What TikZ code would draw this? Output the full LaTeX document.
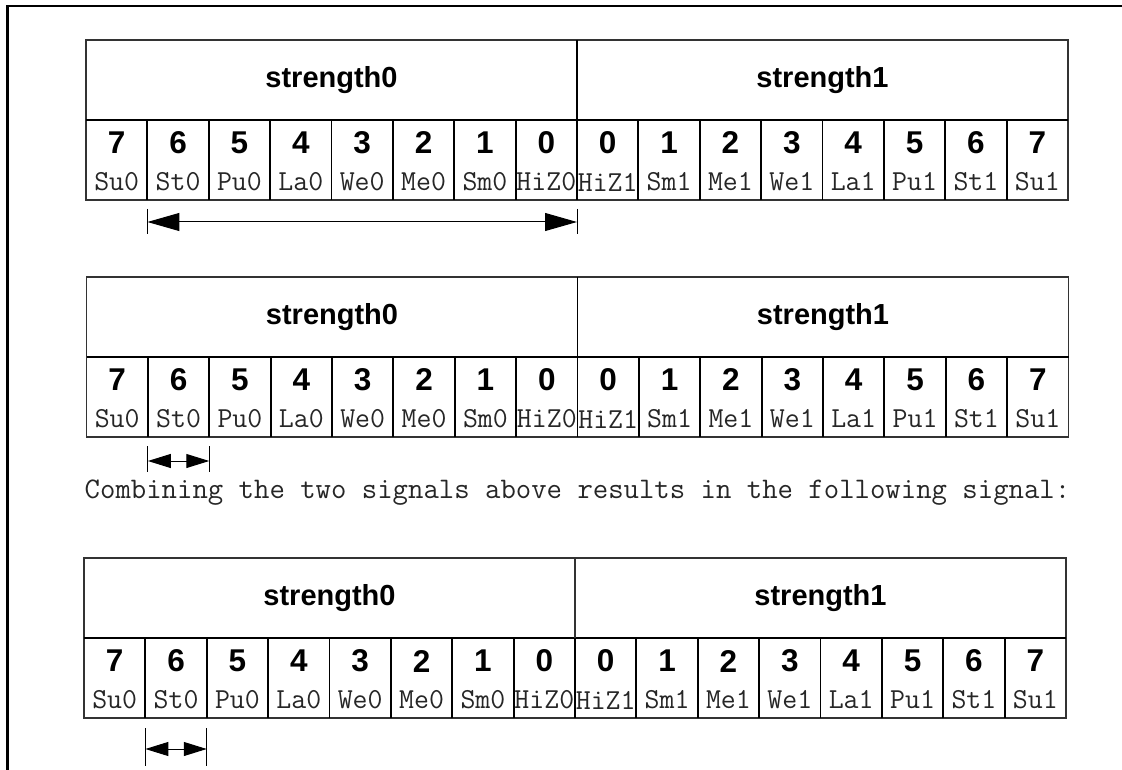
\documentclass[tikz,border=0pt]{standalone}
\usepackage{fontspec}
\setmainfont{Liberation Sans}
\usetikzlibrary{arrows.meta,calc}
\tikzset{
  border/.style={line width=2.5pt},
  headbox/.style={minimum width=491pt, minimum height=80pt, inner sep=0pt, outer sep=0pt, font=\fontsize{29}{29}\selectfont\bfseries},
  cellbox/.style={minimum width=61.375pt, minimum height=80pt, inner sep=0pt, outer sep=0pt},
  num/.style={inner sep=0pt, font=\fontsize{31.5}{31.5}\selectfont\bfseries},
  lab/.style={inner sep=0pt, text=black!85, font=\ttfamily\fontsize{29}{29}\selectfont},
  thinline/.style={line width=1.1pt, black!80},
  thickline/.style={line width=1.9pt},
  tickline/.style={line width=1pt},
  bigarrow/.style={line width=1pt, {Triangle[length=32pt,width=18pt]}-{Triangle[length=32pt,width=18pt]}},
  smallarrow/.style={line width=1pt, {Triangle[length=23pt,width=14pt]}-{Triangle[length=23pt,width=14pt]}},
  combtext/.style={inner sep=0pt, text=black!85, font=\ttfamily\fontsize{29.9}{29.9}\selectfont},
}
\newcommand\sigtab[4]{%
  \begin{scope}[shift={(#2,#3)}]
    \node[headbox] (#1h0) at (245.5,40) {strength0};
    \node[headbox] (#1h1) at (736.5,40) {strength1};
    \foreach \dg/\lb [count=\i from 0] in {7/Su0,6/St0,5/Pu0,4/La0,3/We0,2/Me0,1/Sm0,0/HiZ0,0/HiZ1,1/Sm1,2/Me1,3/We1,4/La1,5/Pu1,6/St1,7/Su1}{
      \node[cellbox] (#1c\i) at ({(\i+0.5)*61.375},120) {};
      \node[num] (#1n\i) at ([yshift=-23pt]#1c\i.north) {\dg};
      \node[lab] (#1l\i) at ([yshift=-62pt]#1c\i.north) {\lb};
    }
    \draw[thinline] (#1h0.north west) rectangle (#1c15.south east);
    \draw[thickline] (#1h0.south west) -- (#1h1.south east);
    \draw[#4] (#1h0.north east) -- (#1h0.south east);
    \foreach \i in {1,...,15} \draw[thickline] (#1c\i.north west) -- (#1c\i.south west);
  \end{scope}}
\begin{document}
\begin{tikzpicture}[x=1pt,y=-1pt]
\useasboundingbox (0,0) rectangle (1122,770);
\draw[border] (1122,6) -- (7.5,6) -- (7.5,770);

\sigtab{a}{86}{40}{thickline}
\sigtab{b}{86.5}{277}{thickline}
\sigtab{c}{84}{558}{thinline}

% arrow 1
\coordinate (a1s) at ($(ac1.south west)+(0,22)$);
\coordinate (a1e) at ($(ac8.south west)+(0,22)$);
\draw[tickline] ($(ac1.south west)+(0,9)$) -- ($(ac1.south west)+(0,34)$);
\draw[tickline] ($(ac8.south west)+(0,9)$) -- ($(ac8.south west)+(0,34)$);
\draw[bigarrow] (a1s) -- (a1e);

% arrow 2
\coordinate (b1s) at ($(bc1.south west)+(0,24)$);
\coordinate (b1e) at ($(bc2.south west)+(0,24)$);
\draw[tickline] ($(bc1.south west)+(0,9)$) -- ($(bc1.south west)+(0,35)$);
\draw[tickline] ($(bc2.south west)+(0,9)$) -- ($(bc2.south west)+(0,35)$);
\draw[smallarrow] (b1s) -- (b1e);

\node[combtext] (comb) at (577.5,493) {Combining the two signals above results in the following signal:};

% arrow 3
\coordinate (c1s) at ($(cc1.south west)+(0,31)$);
\coordinate (c1e) at ($(cc2.south west)+(0,31)$);
\draw[tickline] ($(cc1.south west)+(0,10)$) -- ($(cc1.south west)+(0,48)$);
\draw[tickline] ($(cc2.south west)+(0,10)$) -- ($(cc2.south west)+(0,48)$);
\draw[smallarrow] (c1s) -- (c1e);
\end{tikzpicture}
\end{document}
